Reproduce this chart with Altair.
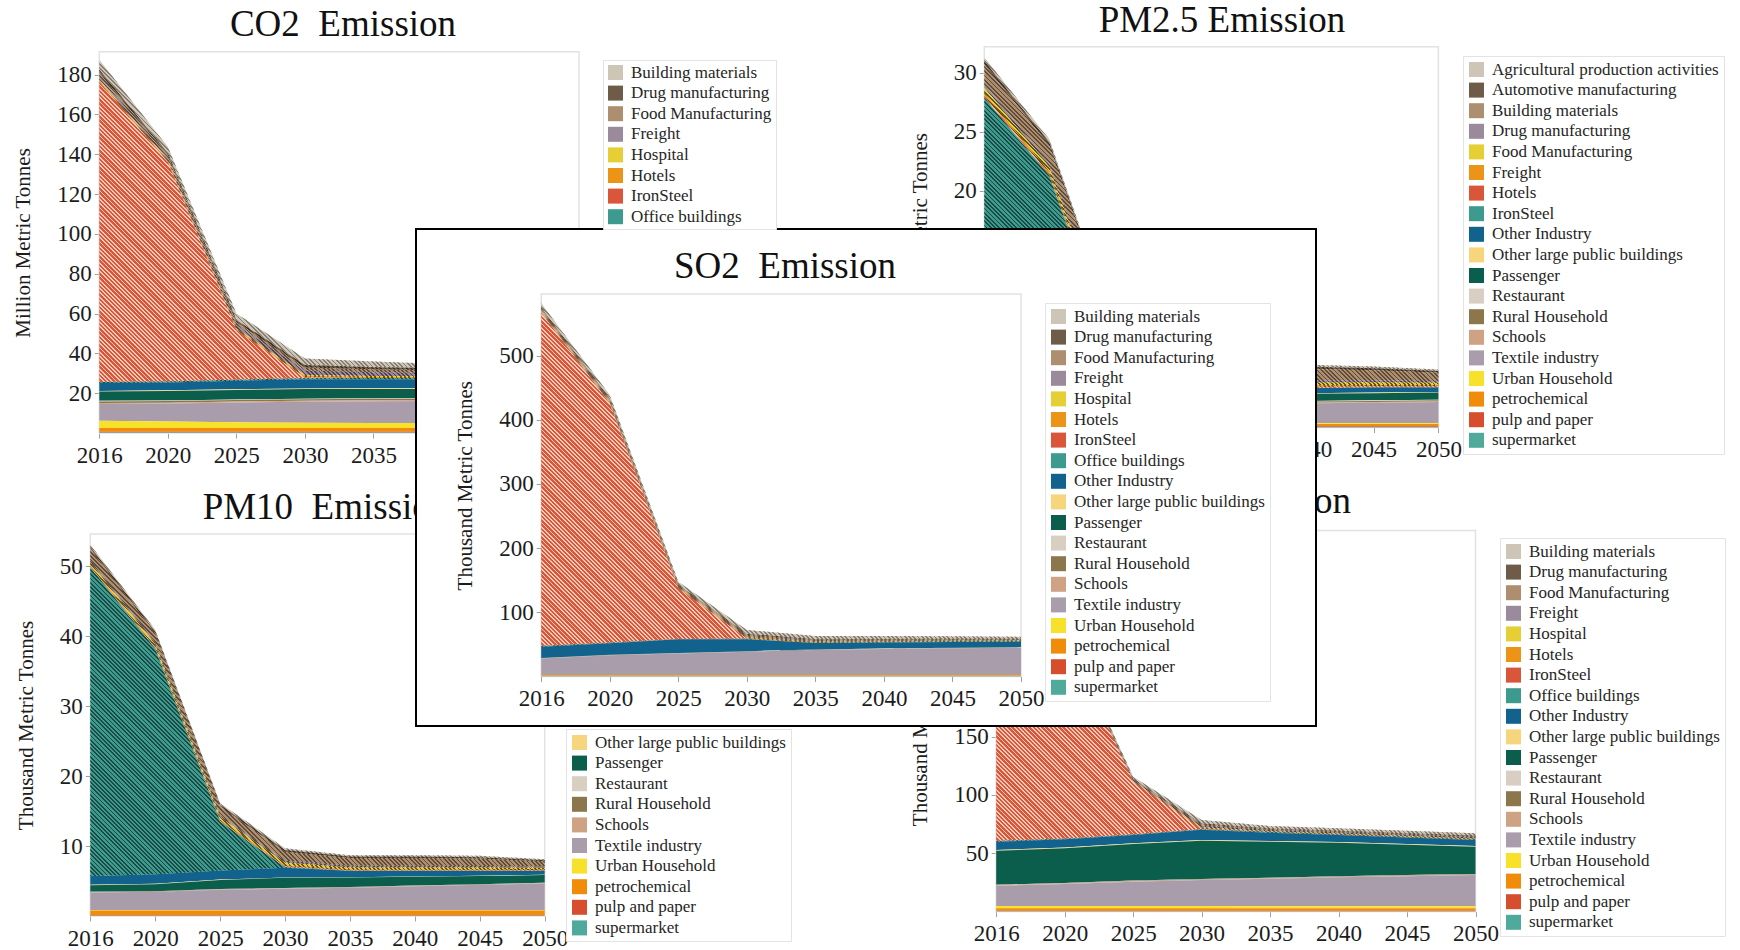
import math

import altair as alt
import pandas as pd

# ---------------------------------------------------------------- data
YEARS = [2016, 2020, 2025, 2030, 2035, 2040, 2045, 2050]

SECTORS_A = [
    "Building materials", "Drug manufacturing", "Food Manufacturing", "Freight",
    "Hospital", "Hotels", "IronSteel", "Office buildings", "Other Industry",
    "Other large public buildings", "Passenger", "Restaurant", "Rural Household",
    "Schools", "Textile industry", "Urban Household", "petrochemical",
    "pulp and paper", "supermarket",
]
SECTORS_B = [
    "Agricultural production activities", "Automotive manufacturing",
    "Building materials", "Drug manufacturing", "Food Manufacturing", "Freight",
    "Hotels", "IronSteel", "Other Industry", "Other large public buildings",
    "Passenger", "Restaurant", "Rural Household", "Schools", "Textile industry",
    "Urban Household", "petrochemical", "pulp and paper", "supermarket",
]

# CO2, million metric tonnes
CO2 = {
    "Building materials": [5.0, 3.1, 3.3, 3.3, 2.8, 2.2, 2.1, 1.9],
    "Drug manufacturing": [1.4, 1.0, 1.1, 1.2, 1.1, 1.0, 0.9, 0.9],
    "Food Manufacturing": [1.8, 1.3, 1.4, 1.6, 1.4, 1.3, 1.2, 1.1],
    "Freight": [1.6, 1.2, 1.6, 2.2, 1.9, 1.7, 1.5, 1.4],
    "Hospital": [0.5, 0.4, 0.4, 0.5, 0.5, 0.4, 0.4, 0.4],
    "Hotels": [0.6, 0.5, 0.5, 0.6, 0.5, 0.5, 0.5, 0.4],
    "IronSteel": [150.9, 110.4, 25.0, 0.5, 0.0, 0.0, 0.0, 0.0],
    "Office buildings": [0.5, 0.5, 0.5, 0.6, 0.6, 0.6, 0.6, 0.6],
    "Other Industry": [3.9, 3.9, 4.3, 4.6, 4.6, 4.5, 4.4, 4.3],
    "Other large public buildings": [0.3, 0.3, 0.3, 0.3, 0.3, 0.3, 0.3, 0.3],
    "Passenger": [4.7, 4.8, 4.8, 4.8, 4.7, 4.6, 4.5, 4.4],
    "Restaurant": [0.3, 0.3, 0.3, 0.3, 0.3, 0.3, 0.3, 0.3],
    "Rural Household": [0.8, 0.8, 0.7, 0.7, 0.7, 0.7, 0.7, 0.7],
    "Schools": [0.5, 0.5, 0.5, 0.5, 0.5, 0.5, 0.5, 0.5],
    "Textile industry": [8.4, 9.0, 10.0, 10.6, 10.9, 11.0, 11.1, 11.2],
    "Urban Household": [3.7, 3.3, 2.8, 2.6, 2.5, 2.5, 2.4, 2.4],
    "petrochemical": [1.8, 1.8, 1.9, 1.9, 1.9, 1.9, 1.9, 1.9],
    "pulp and paper": [0.4, 0.4, 0.4, 0.4, 0.4, 0.4, 0.4, 0.4],
    "supermarket": [0.3, 0.3, 0.3, 0.3, 0.3, 0.3, 0.3, 0.3],
}

# SO2, thousand metric tonnes
SO2 = {
    "Building materials": [7.0, 6.2, 4.8, 6.2, 4.8, 4.4, 3.9, 3.3],
    "Drug manufacturing": [1.5, 1.3, 1.0, 1.3, 1.0, 0.9, 0.8, 0.7],
    "Food Manufacturing": [2.5, 2.2, 1.8, 2.3, 1.8, 1.6, 1.5, 1.2],
    "Freight": [1.5, 1.3, 1.2, 1.5, 1.2, 1.1, 1.0, 0.8],
    "Hospital": [0.7, 0.6, 0.5, 0.6, 0.5, 0.5, 0.4, 0.4],
    "Hotels": [1.5, 1.3, 1.0, 1.3, 1.0, 0.9, 0.8, 0.7],
    "IronSteel": [519.5, 373.4, 78.9, 0.5, 0.0, 0.0, 0.0, 0.0],
    "Office buildings": [1.0, 0.8, 0.6, 0.8, 0.6, 0.6, 0.6, 0.6],
    "Other Industry": [17.5, 17.7, 21.2, 18.6, 10.0, 9.5, 9.0, 8.5],
    "Other large public buildings": [0.1, 0.1, 0.1, 0.1, 0.1, 0.1, 0.1, 0.1],
    "Passenger": [0.3, 0.3, 0.3, 0.3, 0.3, 0.3, 0.3, 0.3],
    "Restaurant": [0.1, 0.1, 0.1, 0.1, 0.1, 0.1, 0.1, 0.1],
    "Rural Household": [0.2, 0.2, 0.2, 0.2, 0.2, 0.2, 0.2, 0.2],
    "Schools": [0.1, 0.1, 0.1, 0.1, 0.1, 0.1, 0.1, 0.1],
    "Textile industry": [26.0, 31.0, 33.8, 36.4, 39.1, 40.5, 41.8, 42.8],
    "Urban Household": [0.2, 0.2, 0.2, 0.2, 0.2, 0.2, 0.2, 0.2],
    "petrochemical": [1.5, 1.5, 1.5, 1.5, 1.5, 1.5, 1.5, 1.5],
    "pulp and paper": [0.3, 0.3, 0.3, 0.3, 0.3, 0.3, 0.3, 0.3],
    "supermarket": [0.2, 0.2, 0.2, 0.2, 0.2, 0.2, 0.2, 0.2],
}

# PM2.5, thousand metric tonnes
PM25 = {
    "Agricultural production activities": [0.3, 0.28, 0.25, 0.19, 0.18, 0.17, 0.15, 0.13],
    "Automotive manufacturing": [0.3, 0.27, 0.25, 0.19, 0.19, 0.18, 0.16, 0.13],
    "Building materials": [1.65, 1.5, 1.4, 1.05, 1.02, 0.96, 0.85, 0.72],
    "Drug manufacturing": [0.3, 0.28, 0.26, 0.19, 0.18, 0.18, 0.16, 0.13],
    "Food Manufacturing": [0.45, 0.42, 0.39, 0.28, 0.28, 0.26, 0.23, 0.19],
    "Freight": [0.25, 0.22, 0.2, 0.18, 0.12, 0.12, 0.12, 0.12],
    "Hotels": [0.15, 0.13, 0.1, 0.12, 0.08, 0.08, 0.08, 0.08],
    "IronSteel": [24.4, 17.7, 2.2, 0.1, 0.0, 0.0, 0.0, 0.0],
    "Other Industry": [1.0, 1.0, 0.9, 0.7, 0.5, 0.45, 0.45, 0.4],
    "Other large public buildings": [0.05, 0.05, 0.05, 0.05, 0.05, 0.05, 0.05, 0.05],
    "Passenger": [0.6, 0.6, 0.65, 0.65, 0.65, 0.6, 0.6, 0.6],
    "Restaurant": [0.05, 0.05, 0.05, 0.05, 0.05, 0.05, 0.05, 0.05],
    "Rural Household": [0.1, 0.1, 0.1, 0.1, 0.1, 0.1, 0.1, 0.1],
    "Schools": [0.05, 0.05, 0.05, 0.05, 0.05, 0.05, 0.05, 0.05],
    "Textile industry": [1.3, 1.4, 1.5, 1.6, 1.65, 1.7, 1.75, 1.8],
    "Urban Household": [0.05, 0.05, 0.05, 0.05, 0.05, 0.05, 0.05, 0.05],
    "petrochemical": [0.2, 0.2, 0.2, 0.2, 0.2, 0.2, 0.2, 0.2],
    "pulp and paper": [0.05, 0.05, 0.05, 0.05, 0.05, 0.05, 0.05, 0.05],
    "supermarket": [0.05, 0.05, 0.05, 0.05, 0.05, 0.05, 0.05, 0.05],
}

# PM10, thousand metric tonnes
PM10 = {
    "Agricultural production activities": [0.3, 0.25, 0.23, 0.25, 0.2, 0.2, 0.19, 0.14],
    "Automotive manufacturing": [0.3, 0.25, 0.23, 0.25, 0.2, 0.2, 0.19, 0.14],
    "Building materials": [1.6, 1.3, 1.27, 1.3, 1.12, 1.12, 1.07, 0.76],
    "Drug manufacturing": [0.3, 0.25, 0.23, 0.25, 0.2, 0.2, 0.19, 0.14],
    "Food Manufacturing": [0.4, 0.35, 0.34, 0.35, 0.3, 0.3, 0.28, 0.19],
    "Freight": [0.2, 0.2, 0.2, 0.2, 0.15, 0.15, 0.15, 0.15],
    "Hotels": [0.1, 0.1, 0.1, 0.1, 0.08, 0.08, 0.08, 0.08],
    "IronSteel": [44.2, 32.25, 7.0, 0.1, 0.0, 0.0, 0.0, 0.0],
    "Other Industry": [1.25, 1.35, 1.3, 1.4, 0.9, 0.8, 0.7, 0.6],
    "Other large public buildings": [0.05, 0.05, 0.05, 0.05, 0.05, 0.05, 0.05, 0.05],
    "Passenger": [0.95, 1.0, 1.3, 1.45, 1.35, 1.25, 1.15, 1.1],
    "Restaurant": [0.02, 0.02, 0.02, 0.02, 0.02, 0.02, 0.02, 0.02],
    "Rural Household": [0.05, 0.05, 0.05, 0.05, 0.05, 0.05, 0.05, 0.05],
    "Schools": [0.03, 0.03, 0.03, 0.03, 0.03, 0.03, 0.03, 0.03],
    "Textile industry": [2.5, 2.6, 2.9, 3.05, 3.2, 3.4, 3.6, 3.8],
    "Urban Household": [0.05, 0.05, 0.05, 0.05, 0.05, 0.05, 0.05, 0.05],
    "petrochemical": [0.7, 0.7, 0.7, 0.7, 0.7, 0.7, 0.7, 0.7],
    "pulp and paper": [0.05, 0.05, 0.05, 0.05, 0.05, 0.05, 0.05, 0.05],
    "supermarket": [0.05, 0.05, 0.05, 0.05, 0.05, 0.05, 0.05, 0.05],
}

# NOx, thousand metric tonnes
NOX = {
    "Building materials": [3.2, 2.4, 1.7, 3.0, 2.1, 2.1, 2.2, 2.1],
    "Drug manufacturing": [0.8, 0.6, 0.4, 0.7, 0.5, 0.5, 0.5, 0.5],
    "Food Manufacturing": [1.2, 0.9, 0.6, 1.1, 0.8, 0.8, 0.8, 0.8],
    "Freight": [1.6, 1.2, 1.0, 1.5, 1.0, 1.0, 1.1, 1.0],
    "Hospital": [0.4, 0.3, 0.2, 0.4, 0.3, 0.3, 0.3, 0.3],
    "Hotels": [0.8, 0.6, 0.4, 0.7, 0.5, 0.5, 0.5, 0.5],
    "IronSteel": [253.5, 175.3, 45.2, 0.5, 0.0, 0.0, 0.0, 0.0],
    "Office buildings": [0.5, 0.5, 0.5, 0.5, 0.5, 0.5, 0.5, 0.5],
    "Other Industry": [7.2, 7.1, 7.1, 8.8, 7.1, 6.0, 5.5, 5.1],
    "Other large public buildings": [0.6, 0.6, 0.6, 0.6, 0.6, 0.6, 0.6, 0.6],
    "Passenger": [29.1, 29.7, 31.4, 32.8, 30.9, 28.8, 26.1, 23.4],
    "Restaurant": [0.2, 0.2, 0.2, 0.2, 0.2, 0.2, 0.2, 0.2],
    "Rural Household": [0.4, 0.4, 0.4, 0.4, 0.4, 0.4, 0.4, 0.4],
    "Schools": [0.3, 0.3, 0.3, 0.3, 0.3, 0.3, 0.3, 0.3],
    "Textile industry": [17.4, 18.9, 21.0, 22.4, 23.6, 24.8, 25.8, 26.9],
    "Urban Household": [2.0, 2.0, 1.9, 1.9, 1.8, 1.8, 1.8, 1.7],
    "petrochemical": [2.0, 2.0, 2.0, 2.0, 2.0, 2.0, 2.0, 2.0],
    "pulp and paper": [0.5, 0.5, 0.5, 0.5, 0.5, 0.5, 0.5, 0.5],
    "supermarket": [0.3, 0.3, 0.3, 0.3, 0.3, 0.3, 0.3, 0.3],
}

# ---------------------------------------------------------------- style
FONT = "Liberation Serif"
CANVAS_W, CANVAS_H = 1740, 950

# colours by legend position; the first eight sectors are hatched
PALETTE = [
    "#cdc5b6", "#6f5c48", "#ad8f70", "#9a8a9b", "#e6cf34", "#eb9418",
    "#d9563a", "#3d9a8e", "#11628c", "#f6d57c", "#0c5e4c", "#d8cfc2",
    "#8c774d", "#cfa283", "#aa9dab", "#f7e12a", "#f08c0a", "#d64e2e",
    "#4faa9c",
]
STRIPES = [
    "#867e71", "#3b3024", "#5f4b37", "#4d414f", "#5c5218", "#6a400a",
    "#f6c9b6", "#1b4a44",
]
N_HATCHED = 8


def sector_table(values, sectors):
    rows = []
    for rank, name in enumerate(sectors):
        for year, v in zip(YEARS, values[name]):
            rows.append({"year": year, "sector": name, "value": v, "rank": rank})
    return pd.DataFrame(rows)


def band_extent(values, sectors, name):
    """Lowest and highest stacked value reached by one band (last sector at the bottom)."""
    lows = [0.0] * len(YEARS)
    for s in reversed(sectors):
        highs = [lo + v for lo, v in zip(lows, values[s])]
        if s == name:
            return min(lows), max(highs)
        lows = highs
    return 0.0, 0.0


def hatch_fill(stripe, w, h, period=3.0, duty=0.42):
    """Diagonal stripes at 45 degrees for a band whose bounding box is w x h pixels."""
    h = max(h, 1.0)
    r = h / w
    k = (1 + r) / (1 + r * r)
    n = max(1, round((w + h) / (math.sqrt(2) * period)))
    clear = "rgba(255,255,255,0)"
    stops = []
    for j in range(n):
        a, b, c = j / n, (j + duty) / n, (j + 1) / n
        stops += [
            {"offset": round(a, 6), "color": stripe},
            {"offset": round(b, 6), "color": stripe},
            {"offset": round(b, 6), "color": clear},
            {"offset": round(c, 6), "color": clear},
        ]
    return {"gradient": "linear", "x1": 0, "y1": 1, "x2": k, "y2": 1 - k * r, "stops": stops}


def emission_panel(title, title_xy, values, sectors, x_px, y_px, y_top, y_ticks,
                   y_title, legend_xy, legend_values=None, legend_padding=5,
                   axis_z=0, legend_z=0):
    df = sector_table(values, sectors)
    xs = alt.Scale(type="point", domain=YEARS, range=list(x_px), padding=0)
    ys = alt.Scale(domain=[0, y_top], range=list(y_px), nice=False, zero=False)

    # the same axis definitions go on every layer so that they merge cleanly;
    # the x axis labels every year of the point scale's domain
    x_axis = alt.Axis(orient="bottom", offset=y_px[0] - CANVAS_H, labelAngle=0,
                      title=None, zindex=axis_z, labelOverlap=False)
    y_axis = alt.Axis(orient="left", offset=-x_px[0], values=y_ticks, title=y_title,
                      titlePadding=23, zindex=axis_z, labelOverlap=False)
    legend_args = dict(orient="none", legendX=legend_xy[0], legendY=legend_xy[1],
                       title=None, padding=legend_padding, zindex=legend_z)
    if legend_values is not None:
        legend_args["values"] = legend_values

    def xenc():
        return alt.X("year:O", scale=xs, axis=x_axis)

    def yenc():
        return alt.Y("lo:Q", scale=ys, axis=y_axis, stack=None)

    stacked = alt.Chart(df).transform_stack(
        stack="value", groupby=["year"], as_=["lo", "hi"],
        sort=[alt.SortField("rank", order="descending")],
    )

    frame = alt.Chart(
        pd.DataFrame({"year": [YEARS[0]], "year2": [YEARS[-1]], "lo": [0], "hi": [y_top]})
    ).mark_rect(fill="white", stroke="#e2e2e2", strokeWidth=1.5).encode(
        x=xenc(), x2="year2", y=yenc(), y2="hi",
    )

    base = stacked.mark_area(strokeWidth=0).encode(
        x=xenc(),
        y=yenc(),
        y2="hi:Q",
        color=alt.Color("sector:N", scale=alt.Scale(domain=sectors, range=PALETTE),
                        legend=alt.Legend(**legend_args)),
    )

    w = x_px[1] - x_px[0]
    ppu = (y_px[0] - y_px[1]) / y_top
    hatches = []
    for i, name in enumerate(sectors[:N_HATCHED]):
        lo, hi = band_extent(values, sectors, name)
        hatches.append(
            stacked.transform_filter(alt.FieldEqualPredicate(field="sector", equal=name))
            .mark_area(fill=hatch_fill(STRIPES[i], w, (hi - lo) * ppu), strokeWidth=0)
            .encode(x=xenc(), y=yenc(), y2="hi:Q")
        )

    heading = alt.Chart(pd.DataFrame({"label": [title]})).mark_text(
        font=FONT, fontSize=37, align="center", baseline="alphabetic", color="#111111"
    ).encode(text="label:N", x=alt.value(title_xy[0]), y=alt.value(title_xy[1]))

    return alt.layer(frame, base, *hatches, heading)


co2 = emission_panel(
    "CO2\u00a0 Emission", (343, 36), CO2, SECTORS_A,
    x_px=(99.3, 579), y_px=(433.1, 51.7), y_top=191.5,
    y_ticks=[20, 40, 60, 80, 100, 120, 140, 160, 180],
    y_title="Million Metric Tonnes", legend_xy=(603, 60),
    legend_values=SECTORS_A[:8], legend_padding=4,
)
pm25 = emission_panel(
    "PM2.5 Emission", (1222, 32), PM25, SECTORS_B,
    x_px=(984.3, 1438.4), y_px=(427.5, 46.7), y_top=32.2,
    y_ticks=[5, 10, 15, 20, 25, 30],
    y_title="Thousand Metric Tonnes", legend_xy=(1463, 56),
)
pm10 = emission_panel(
    "PM10\u00a0 Emission", (326, 519), PM10, SECTORS_B,
    x_px=(90.3, 544.7), y_px=(916, 534), y_top=54.6,
    y_ticks=[10, 20, 30, 40, 50],
    y_title="Thousand Metric Tonnes", legend_xy=(566, 729),
    legend_values=SECTORS_B[9:], axis_z=1, legend_z=2,
)
nox = emission_panel(
    "NOx\u00a0 Emission", (1237, 513), NOX, SECTORS_A,
    x_px=(996.2, 1475.5), y_px=(911.6, 530.5), y_top=326.8,
    y_ticks=[50, 100, 150, 200, 250, 300],
    y_title="Thousand Metric Tonnes", legend_xy=(1500, 538),
)

# white inset panel with a black border that holds the SO2 chart
inset = alt.Chart(pd.DataFrame({"edge": [0]})).mark_rect(
    fill="white", stroke="black", strokeWidth=2
).encode(x=alt.value(416), x2=alt.value(1316), y=alt.value(229), y2=alt.value(726))

so2 = emission_panel(
    "SO2\u00a0 Emission", (785, 278), SO2, SECTORS_A,
    x_px=(541.2, 1021), y_px=(676.5, 294), y_top=596,
    y_ticks=[100, 200, 300, 400, 500],
    y_title="Thousand Metric Tonnes", legend_xy=(1045, 303), axis_z=1,
)

chart = (
    alt.layer(co2, pm25, pm10, nox, inset, so2)
    .resolve_scale(x="independent", y="independent", color="independent")
    .properties(width=CANVAS_W, height=CANVAS_H,
                autosize=alt.AutoSizeParams(type="none"), padding=0)
    .configure(font=FONT)
    .configure_view(strokeWidth=0)
    .configure_axis(
        labelFont=FONT, labelFontSize=23, labelColor="#1c1c1c",
        titleFont=FONT, titleFontSize=21, titleFontWeight="normal", titleColor="#1c1c1c",
        tickColor="#a0a0a0", tickSize=5, domain=False, grid=False,
    )
    .configure_axisX(labelPadding=6)
    .configure_axisY(labelPadding=3)
    .configure_legend(
        labelFont=FONT, labelFontSize=17, labelColor="#262626",
        symbolType="square", symbolSize=225, symbolStrokeWidth=0,
        rowPadding=2.6, strokeColor="#e3e3e3", fillColor="white",
        labelOffset=7, labelLimit=320,
    )
)

chart.save("out.html", embed_options={"renderer": "svg", "actions": False})
